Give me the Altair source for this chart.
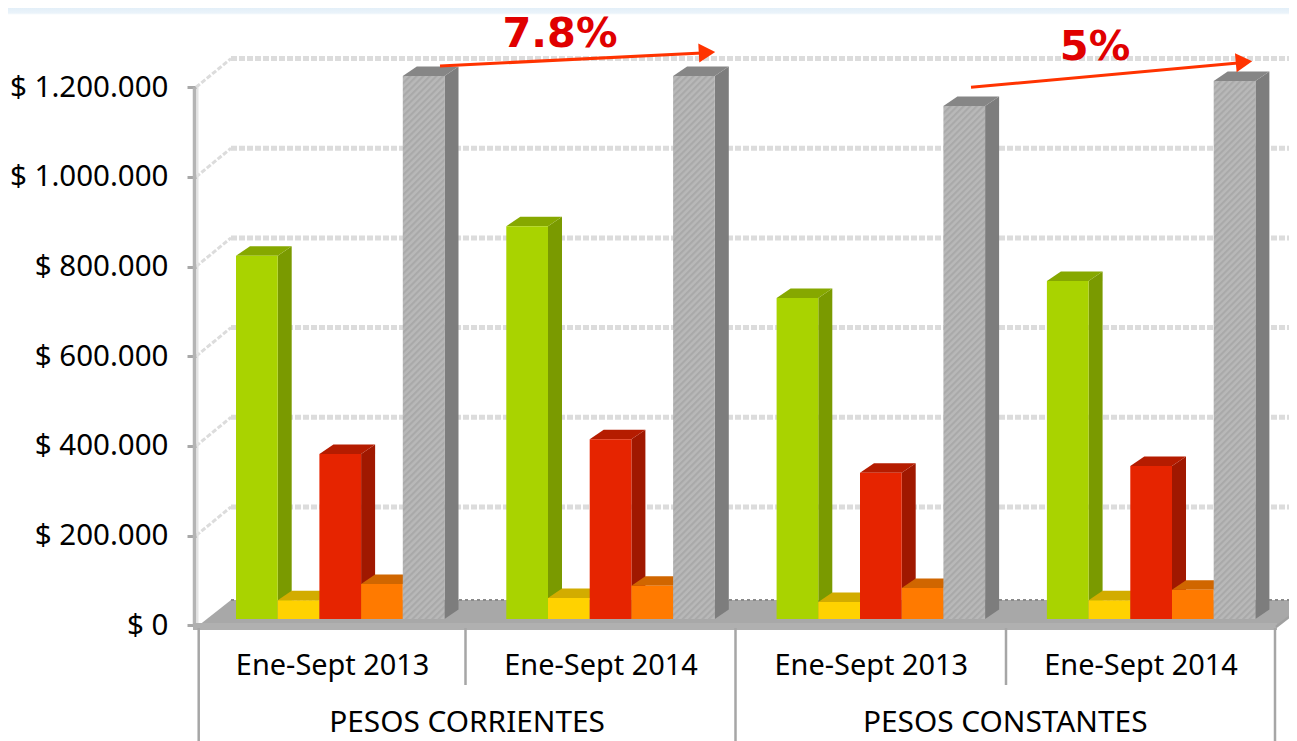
import altair as alt
import pandas as pd

# ---------- values ----------
groups = ["Ene-Sept 2013", "Ene-Sept 2014", "Ene-Sept 2013", "Ene-Sept 2014"]
green = [810000, 876000, 716000, 754000]
yellow = [42000, 47000, 38000, 42000]
red = [368000, 401000, 326000, 341000]
orange = [78000, 74000, 69000, 65000]
grey = [1211000, 1211000, 1144000, 1200000]
y_ticks = [0, 200000, 400000, 600000, 800000, 1000000, 1200000]
sections = ["PESOS CORRIENTES", "PESOS CONSTANTES"]

# ---------- layout ----------
K = 200000 / 89.67          # value units per pixel
Y0 = 625.3
def v(px):                  # picture row -> value
    return (Y0 - px) * K
L, R = 197, 1289
T, B = 8, 741
FONT = "Noto Sans"

y_axis = alt.Axis(values=y_ticks, domain=False, grid=False, title=None, ticks=True,
                  tickColor="#a8a8a8", tickWidth=3, tickSize=10, labelPadding=19,
                  labelFont=FONT, labelFontSize=29.5, labelColor="#000000",
                  labelExpr="'$ ' + replace(format(datum.value, ','), /,/g, '.')")

X = lambda f="x": alt.X(f"{f}:Q", scale=alt.Scale(domain=[L, R], nice=False, zero=False), axis=None)
Y = lambda f="y": alt.Y(f"{f}:Q", scale=alt.Scale(domain=[v(B), v(T)], nice=False, zero=False), axis=y_axis, stack=None)

def rule(rows, color, width, dash=None):
    kw = dict(color=color, strokeWidth=width)
    if dash:
        kw["strokeDash"] = dash
    return alt.Chart(pd.DataFrame(rows)).mark_rule(**kw).encode(
        x=X(), x2=alt.X2("x2:Q"), y=Y(), y2=alt.Y2("y2:Q"))

BAR_W = 41.7
STEP = 270.3
X0 = 236
DX, DY = 14, 9.5
BASE = v(619)
DEPTH = 28.7 * K

series = [
    ("green", green, "#a9d300", "#7a9a00", "#86a800"),
    ("yellow", yellow, "#ffd200", "#caa400", "#d2ac00"),
    ("red", red, "#e62400", "#a01800", "#b51c00"),
    ("orange", orange, "#ff7a00", "#c96200", "#d06600"),
    ("grey", grey, None, "#7d7d7d", "#868686"),
]

layers = []

# banner strip at the very top
layers.append(alt.Chart(pd.DataFrame({"a": [1]})).mark_rect(
    color=alt.LinearGradient(gradient="linear", x1=0, y1=0, x2=0, y2=1, stops=[
        alt.GradientStop(color="#e3eff8", offset=0),
        alt.GradientStop(color="#eaf3fa", offset=0.75),
        alt.GradientStop(color="#f7fbfd", offset=1)])
).encode(x=alt.value(-189), x2=alt.value(R - L), y=alt.value(0), y2=alt.value(6.5)))

# gridlines: back wall and side wall
nz = [t for t in y_ticks if t > 0]
layers.append(rule([{"x": 231, "x2": R, "y": t + DEPTH, "y2": t + DEPTH} for t in nz], "#dcdcdc", 5, [6, 2]))
layers.append(rule([{"x": 196, "x2": 231, "y": t, "y2": t + DEPTH} for t in nz], "#dcdcdc", 3, [5, 2]))

# value axis line
layers.append(rule([{"x": 197.5, "x2": 197.5, "y": v(Y0), "y2": 1200000}], "#e4e4e4", 2))
layers.append(rule([{"x": 194.5, "x2": 194.5, "y": v(Y0), "y2": 1200000}], "#b4b4b4", 3.5))

# floor
floor = pd.DataFrame({
    "x": [198, 231, 1277, 1289],
    "y": [v(626), v(600), v(600), v(600)],
    "y2": [v(626), v(626), v(626), v(617)],
})
layers.append(alt.Chart(floor).mark_area(color="#a8a8a8").encode(x=X(), y=Y(), y2=alt.Y2("y2:Q")))
layers.append(rule([{"x": 231, "x2": R, "y": v(600), "y2": v(600)}], "#8a8a8a", 2, [3, 3]))
layers.append(rule([{"x": 193, "x2": 1277, "y": v(626.5), "y2": v(626.5)}], "#b0b0b0", 7))

# 3-D bars, drawn left to right so that each one covers the previous one
def hatch(w, h):
    period = 6.5
    total = w + h
    n = int(total / period)
    stops = []
    for i in range(n):
        a = i / n
        stops += [
            alt.GradientStop(color="#a9a9a9", offset=round(a, 5)),
            alt.GradientStop(color="#a9a9a9", offset=round(a + 0.2 / n, 5)),
            alt.GradientStop(color="#b8b8b8", offset=round(a + 0.5 / n, 5)),
            alt.GradientStop(color="#b8b8b8", offset=round(a + 0.8 / n, 5)),
        ]
    s = total / (w * w + h * h)
    return alt.LinearGradient(gradient="linear", x1=0, y1=0, x2=round(s * w, 5), y2=round(s * h, 5), stops=stops)

for si, (name, vals, front, side, top) in enumerate(series):
    side_rows, top_rows, front_rows = [], [], []
    for g, val in enumerate(vals):
        l = X0 + g * STEP + si * BAR_W
        r = l + BAR_W
        yt = BASE + val
        yb = BASE
        d = DY * K
        side_rows += [
            {"g": g, "x": r, "y": yt, "y2": yb},
            {"g": g, "x": r + DX, "y": yt + d, "y2": yb + d},
        ]
        top_rows += [
            {"g": g, "x": l, "y": yt, "y2": yt},
            {"g": g, "x": l + DX, "y": yt + d, "y2": yt},
            {"g": g, "x": r, "y": yt + d, "y2": yt},
            {"g": g, "x": r + DX, "y": yt + d, "y2": yt + d},
        ]
        front_rows.append({"g": g, "x": l, "x2": r, "y": yt, "y2": yb})
    layers.append(alt.Chart(pd.DataFrame(side_rows)).mark_area(color=side).encode(
        x=X(), y=Y(), y2=alt.Y2("y2:Q"), detail="g:N"))
    layers.append(alt.Chart(pd.DataFrame(top_rows)).mark_area(color=top).encode(
        x=X(), y=Y(), y2=alt.Y2("y2:Q"), detail="g:N"))
    if front:
        layers.append(alt.Chart(pd.DataFrame(front_rows)).mark_rect(color=front).encode(
            x=X(), x2=alt.X2("x2:Q"), y=Y(), y2=alt.Y2("y2:Q")))
    else:
        for row in front_rows:
            h_px = (row["y"] - row["y2"]) / K
            layers.append(alt.Chart(pd.DataFrame([row])).mark_rect(color=hatch(BAR_W, h_px)).encode(
                x=X(), x2=alt.X2("x2:Q"), y=Y(), y2=alt.Y2("y2:Q")))

# category axis: separators and labels
seps = [198.7, 465.5, 735.5, 1006, 1275]
SEP_C = "#a6a6a6"
layers.append(rule([{"x": s, "x2": s, "y": v(628), "y2": v(741)} for s in (seps[0], seps[2], seps[4])], SEP_C, 2.5))
layers.append(rule([{"x": s, "x2": s, "y": v(628), "y2": v(685)} for s in (seps[1], seps[3])], SEP_C, 2.5))
layers.append(rule([{"x": 1276, "x2": 1289, "y": v(627), "y2": v(617)}], "#a0a0a0", 2.5))

lab = pd.DataFrame({"x": [(seps[i] + seps[i + 1]) / 2 + 0.5 for i in range(4)], "t": groups})
layers.append(alt.Chart(lab).mark_text(font=FONT, fontSize=28.9, color="#000000", baseline="alphabetic").encode(
    x=X(), y=alt.value(675 - T), text="t:N"))
sec = pd.DataFrame({"x": [(seps[0] + seps[2]) / 2, (seps[2] + seps[4]) / 2], "t": sections})
layers.append(alt.Chart(sec).mark_text(font=FONT, fontSize=29.8, color="#000000", baseline="alphabetic").encode(
    x=X(), y=alt.value(731.5 - T), text="t:N"))

# growth arrows
layers.append(rule([{"x": 440, "x2": 702, "y": v(66), "y2": v(53)},
                    {"x": 971, "x2": 1238, "y": v(87.3), "y2": v(63)}], "#ff3300", 3))
for px, py, ang in ((707, 52.5, 357), (1244, 62, 355)):
    layers.append(alt.Chart(pd.DataFrame({"x": [px], "y": [v(py)]})).mark_point(
        shape="triangle-right", filled=True, color="#ff3300", opacity=1, size=361, angle=ang).encode(x=X(), y=Y()))
ann = pd.DataFrame({"x": [560, 1095], "y": [v(47), v(60)], "t": ["7.8%", "5%"]})
layers.append(alt.Chart(ann).mark_text(font="DejaVu Sans", fontWeight="bold", fontSize=41.5, color="#e00000",
                                       baseline="alphabetic").encode(x=X(), y=Y(), text="t:N"))

chart = alt.layer(*layers).properties(
    width=R - L, height=B - T,
    padding={"left": L - 8, "top": 0, "right": 0, "bottom": 0},
    autosize=alt.AutoSizeParams(type="none"),
    background="#ffffff",
).configure_view(stroke=None)

chart.save("out.html", embed_options={"renderer": "svg", "actions": False})
